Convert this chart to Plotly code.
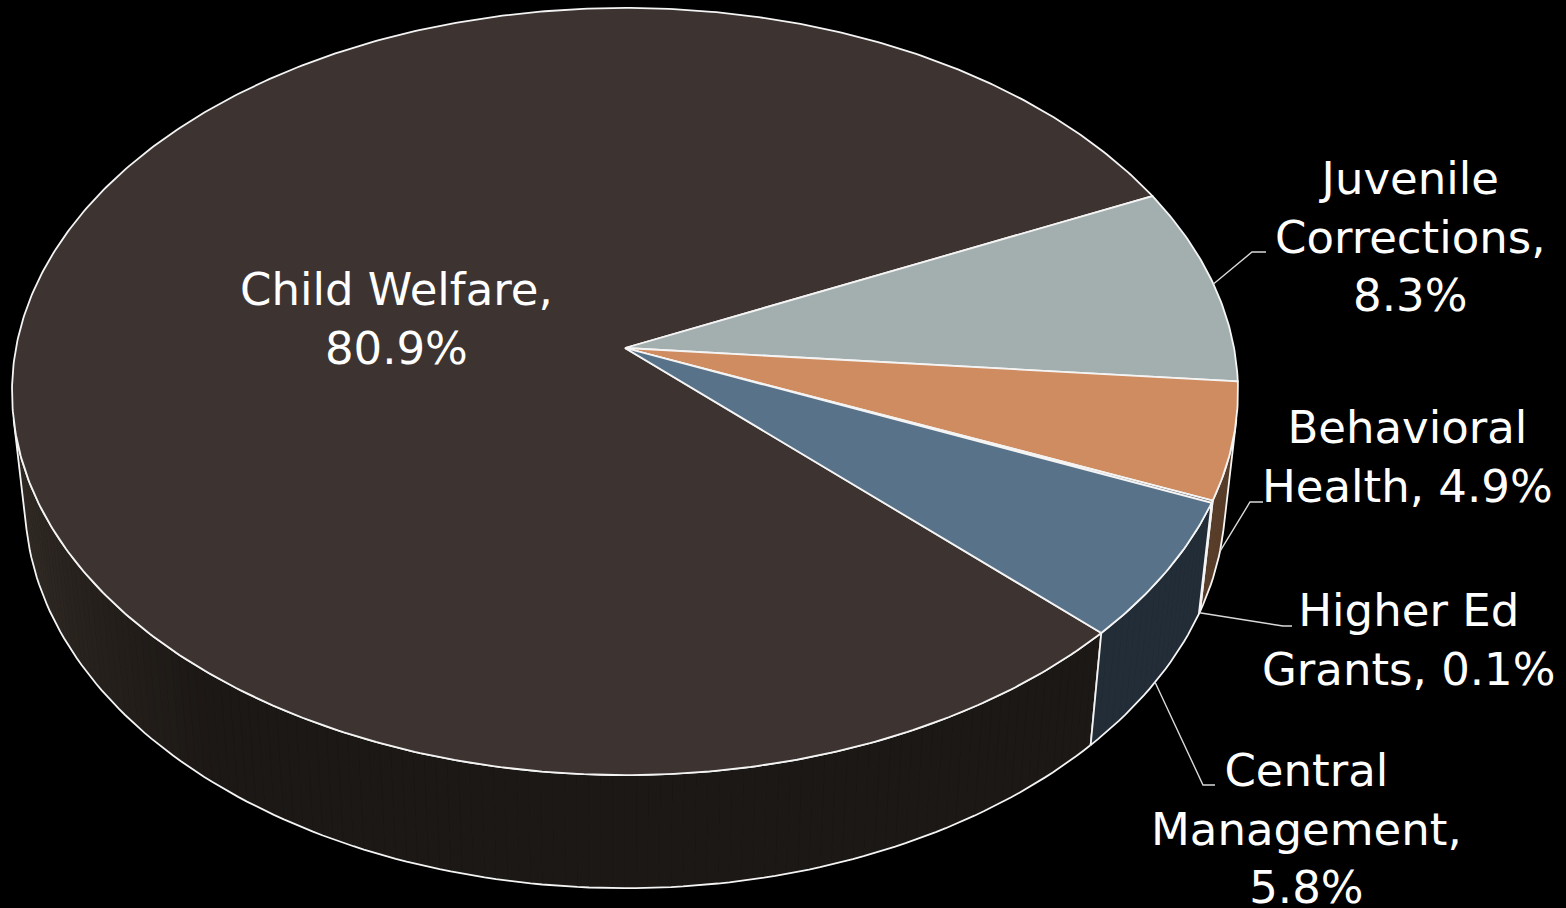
import numpy as np
import plotly.graph_objects as go

# ---------------- data ----------------
categories = ["Child Welfare", "Juvenile Corrections", "Behavioral Health",
              "Higher Ed Grants", "Central Management"]
values = [80.9, 8.3, 4.9, 0.1, 5.8]
label_names = ["Child Welfare", "Juvenile<br>Corrections", "Behavioral<br>Health",
               "Higher Ed<br>Grants", "Central<br>Management"]
label_seps = ["<br>", "<br>", " ", " ", "<br>"]

# ---------------- styling ----------------
top_colors = ["#3D3431", "#A3AFAF", "#CE8C60", "#4A4A4A", "#587289"]
side_colors = [(28, 24, 21), (90, 98, 98), (90, 63, 43), (50, 50, 50), (35, 45, 56)]
edge_color = "#F4F4F4"
leader_color = "#D9D9D9"
FONT = "DejaVu Sans"
FSIZE = 45

# label centres (pixel space) and leader elbows
label_pos = [(396, 319), (1410, 237), (1407, 457), (1409, 640), (1306, 829)]
leader_elbow = [None, [(1252, 252), (1266, 252)], [(1250, 502), (1263, 502)],
                [(1283, 626), (1292, 626)], [(1203, 785), (1215, 785)]]

# ---------------- 3D projection ----------------
W, H_PX = 1566, 908
CX, CY = 625.0, 348.0
R = 0.1448
ELEV = np.radians(38.44)
FOC = 4206.0
THK = 0.0339
FIRST_ANGLE = 133.9  # degrees clockwise from 12 o'clock

ce, se = np.cos(ELEV), np.sin(ELEV)


def proj(tdeg, z):
    t = np.radians(np.asarray(tdeg, dtype=float))
    X = R * np.cos(t)
    Y = R * np.sin(t)
    depth = Y * ce - z * se + 1.0
    du = Y * se + z * ce
    return CX + FOC * X / depth, CY - FOC * du / depth


APX, APY = CX, CY  # apex (centre of the disc)

t_sil1 = np.degrees(np.arcsin(-R / ce))      # right silhouette
t_sil2 = -180.0 - t_sil1                      # left silhouette

fig = go.Figure()


def poly(xs, ys, fill, line_color, lw):
    fig.add_trace(go.Scatter(x=list(xs), y=list(ys), mode="lines", fill="toself",
                             fillcolor=fill, line=dict(color=line_color, width=lw),
                             hoverinfo="skip", showlegend=False))


def line(xs, ys, color, lw):
    fig.add_trace(go.Scatter(x=list(xs), y=list(ys), mode="lines",
                             line=dict(color=color, width=lw),
                             hoverinfo="skip", showlegend=False))


# slice angular extents (t measured ccw from +x, slices go clockwise)
total = sum(values)
starts, ends = [], []
a = 90.0 - FIRST_ANGLE
for v in values:
    starts.append(a)
    a = a - 360.0 * v / total
    ends.append(a)


def shade(rgb, t):
    k = 1.0 + 0.95 * np.clip((-128.0 - t) / (-128.0 - t_sil2), 0, 1)
    k *= 1.0 + 0.06 * np.clip((t + 128.0) / 80.0, -1, 0)
    return "rgb(%d,%d,%d)" % tuple(int(min(255, c * k)) for c in rgb)


# ---------------- side faces ----------------
for i in range(len(values)):
    for k in (-1, 0, 1):
        lo = max(ends[i], t_sil2 + 360 * k)
        hi = min(starts[i], t_sil1 + 360 * k)
        if hi <= lo:
            continue
        n = max(2, int((hi - lo) / 1.0) + 1)
        ts = np.linspace(hi, lo, n)
        for j in range(n - 1):
            ta, tb = ts[j], ts[j + 1]
            xa0, ya0 = proj([ta, tb], 0.0)
            xb0, yb0 = proj([tb, ta], -THK)
            col = shade(side_colors[i], 0.5 * (ta + tb) - 360 * k)
            poly(list(xa0) + list(xb0), list(ya0) + list(yb0), col, col, 1)
        xt, yt = proj(ts, 0.0)
        xb, yb = proj(ts[::-1], -THK)
        line(list(xt) + list(xb) + [xt[0]], list(yt) + list(yb) + [yt[0]], edge_color, 1.8)

# ---------------- top faces ----------------
for i in range(len(values)):
    n = max(2, int(abs(starts[i] - ends[i]) / 0.5) + 1)
    ts = np.linspace(starts[i], ends[i], n)
    xs, ys = proj(ts, 0.0)
    poly([APX] + list(xs) + [APX], [APY] + list(ys) + [APY], top_colors[i], edge_color, 1.8)

# ---------------- leader lines + labels ----------------
annotations = []
for i in range(len(values)):
    mid = 0.5 * (starts[i] + ends[i])
    if leader_elbow[i] is not None:
        mm = ((mid + 180) % 360) - 180
        visible = t_sil2 < mm < t_sil1
        sx, sy = proj(mid, -THK if visible else 0.0)
        pts = [(float(sx), float(sy))] + leader_elbow[i]
        line([p[0] for p in pts], [p[1] for p in pts], leader_color, 1.4)
    text = label_names[i] + "," + label_seps[i] + f"{values[i]:.1f}%"
    annotations.append(dict(x=label_pos[i][0], y=label_pos[i][1], xref="x", yref="y",
                            text=text, showarrow=False, xanchor="center", yanchor="middle",
                            align="center",
                            font=dict(family=FONT, size=FSIZE, color="#FFFFFF")))

fig.update_layout(
    width=W, height=H_PX,
    margin=dict(l=0, r=0, t=0, b=0),
    paper_bgcolor="#000000", plot_bgcolor="#000000",
    xaxis=dict(range=[0, W], visible=False, fixedrange=True),
    yaxis=dict(range=[H_PX, 0], visible=False, fixedrange=True),
    annotations=annotations,
    showlegend=False,
)

fig.write_html("out.html")
